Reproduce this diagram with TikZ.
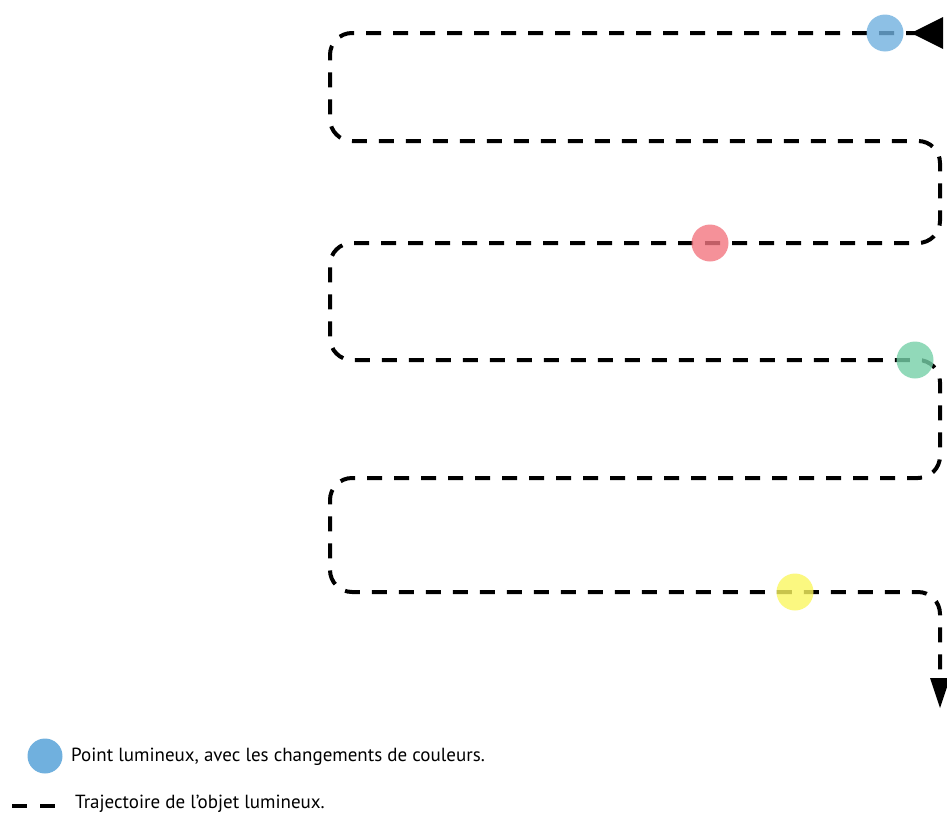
\documentclass[tikz,border=0pt]{standalone}
\usepackage{fontspec}
\setmainfont{PT Sans}
\definecolor{cblue}{RGB}{112,176,222}
\definecolor{cred}{RGB}{242,118,128}
\definecolor{cgreen}{RGB}{118,208,168}
\definecolor{cyellow}{RGB}{250,246,96}
\begin{document}
\begin{tikzpicture}[x=1pt,y=-1pt,
  traj/.style={line width=4pt, dash pattern=on 15pt off 12pt, rounded corners=22pt},
  tip/.style={fill=black, draw=none},
  light/.style={circle, minimum size=37pt, inner sep=0pt, fill opacity=0.8, draw=none},
  legtext/.style={anchor=west, font=\fontsize{19}{22}\selectfont, inner sep=0pt}]
\useasboundingbox (0,0) rectangle (947,814);
% path coordinates
\coordinate (s) at (921,33);
\coordinate (a1) at (330,33);
\coordinate (a2) at (330,141);
\coordinate (a3) at (940,141);
\coordinate (a4) at (940,243);
\coordinate (a5) at (330,243);
\coordinate (a6) at (330,360);
\coordinate (a7) at (940,360);
\coordinate (a8) at (940,478);
\coordinate (a9) at (330,478);
\coordinate (a10) at (330,592);
\coordinate (a11) at (940,592);
\coordinate (e) at (940,682);
\draw[traj] (s) -- (a1) -- (a2) -- (a3) -- (a4) -- (a5) -- (a6) -- (a7) -- (a8) -- (a9) -- (a10) -- (a11) -- (e);
% arrow tips
\fill[tip] (911,33) -- (943,17) -- (943,49) -- cycle;
\fill[tip] (940,708) -- (930,678) -- (950,678) -- cycle;
% lights
\node[light, fill=cblue] (pb) at (885,33) {};
\node[light, fill=cred] (pr) at (710,243) {};
\node[light, fill=cgreen] (pg) at (915,360) {};
\node[light, fill=cyellow] (py) at (795,592) {};
% legend
\node[circle, minimum size=35pt, inner sep=0pt, fill=cblue] (lc) at (45,756) {};
\node[legtext] (lt1) at (71,757) {Point lumineux, avec les changements de couleurs.};
\coordinate (ld1) at (12,806);
\coordinate (ld2) at (56,806);
\draw[line width=4pt, dash pattern=on 15pt off 13pt] (ld1) -- (ld2);
\node[legtext] (lt2) at (75,804) {Trajectoire de l’objet lumineux.};
\end{tikzpicture}
\end{document}
